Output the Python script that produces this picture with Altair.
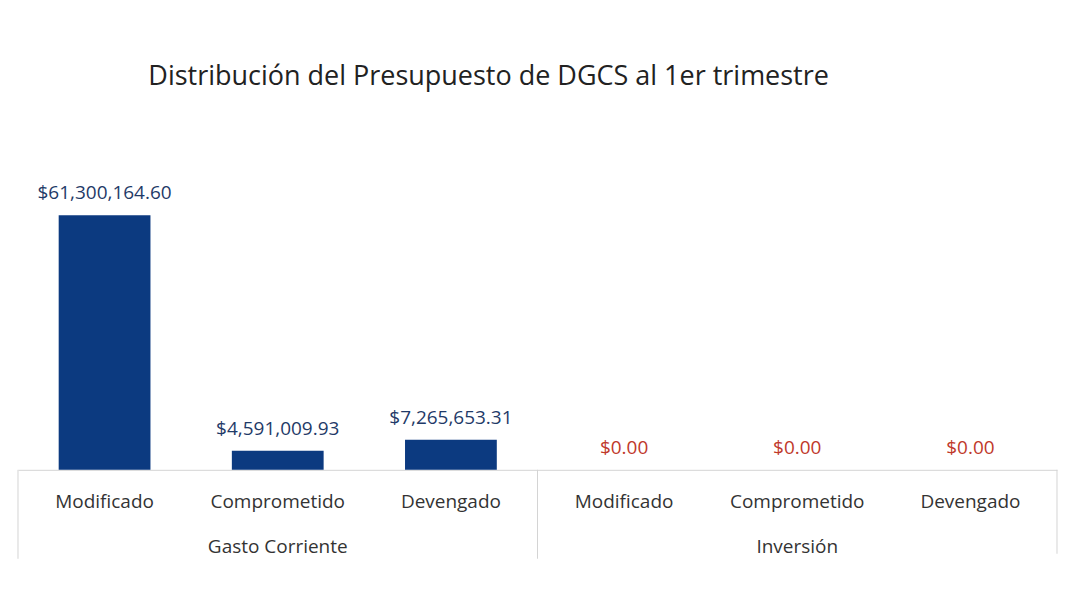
import altair as alt
import pandas as pd

# ---- data ----
groups = ["Gasto Corriente", "Gasto Corriente", "Gasto Corriente",
          "Inversión", "Inversión", "Inversión"]
subcats = ["Modificado", "Comprometido", "Devengado",
           "Modificado", "Comprometido", "Devengado"]
values = [61300164.60, 4591009.93, 7265653.31, 0.0, 0.0, 0.0]

title_text = "Distribución del Presupuesto de DGCS al 1er trimestre"

df = pd.DataFrame({"group": groups, "sub": subcats, "value": values})
df["key"] = df["group"] + "|" + df["sub"]
df["labcol"] = ["zero" if v == 0 else "pos" for v in values]
order = list(df["key"])

FONT = "Open Sans"
PH = 291

xs = alt.X("key:N", sort=order,
           scale=alt.Scale(paddingInner=0, paddingOuter=0),
           axis=alt.Axis(title=None, labelAngle=0, ticks=False,
                         labelExpr="split(datum.label, '|')[1]",
                         labelFont=FONT, labelFontSize=19, labelColor="#333333",
                         labelPadding=23, domainColor="#d4d4d4", grid=False))
ys = alt.Y("value:Q", scale=alt.Scale(domain=[0, 70000000]), axis=None)

base = alt.Chart(df)

bars = base.mark_bar(color="#0c3a80", width=alt.RelativeBandSize(0.53)).encode(x=xs, y=ys)

labels = base.mark_text(baseline="bottom", dy=-12, font=FONT, fontSize=19).encode(
    x=alt.X("key:N", sort=order), y=ys,
    text=alt.Text("value:Q", format="$,.2f"),
    color=alt.Color("labcol:N",
                    scale=alt.Scale(domain=["pos", "zero"], range=["#1f3a68", "#c0392b"]),
                    legend=None))

grp = base.transform_filter(alt.datum.sub == "Comprometido").mark_text(
    font=FONT, fontSize=19, color="#333333", baseline="middle").encode(
    x=alt.X("key:N", sort=order), y=alt.value(PH + 77), text="group:N")

firsts = base.transform_filter(alt.datum.sub == "Modificado").mark_rule(
    color="#d4d4d4", strokeWidth=1).encode(
    x=alt.X("key:N", sort=order, bandPosition=0),
    y=alt.value(PH), y2=alt.value(PH + 89))

lastr = base.transform_filter(
    (alt.datum.sub == "Devengado") & (alt.datum.group == "Inversión")).mark_rule(
    color="#d4d4d4", strokeWidth=1).encode(
    x=alt.X("key:N", sort=order, bandPosition=1),
    y=alt.value(PH), y2=alt.value(PH + 84))

chart = alt.layer(bars, labels, grp, firsts, lastr).properties(
    width=1040, height=PH, background="white",
    padding={"left": 9, "top": 55, "right": 0, "bottom": 5},
    title=alt.TitleParams(title_text, anchor="start", dx=131, fontSize=27,
                          font=FONT, fontWeight="normal", color="#222222", offset=88),
).configure_view(strokeWidth=0, stroke="transparent")

chart.save("out.html", embed_options={"renderer": "svg", "actions": False})
